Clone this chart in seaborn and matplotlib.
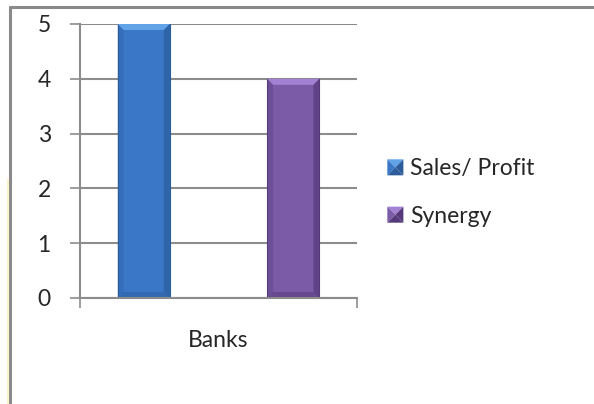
import matplotlib
matplotlib.use("Agg")
import matplotlib.pyplot as plt
from matplotlib.lines import Line2D
from matplotlib.patches import Patch, Polygon
from matplotlib.legend_handler import HandlerBase
import seaborn as sns
import pandas as pd

# Chart data
categories = ["Banks"]
series = ["Sales/ Profit", "Synergy"]
values = [5, 4]
y_ticks = [0, 1, 2, 3, 4, 5]

colors = {"Sales/ Profit": "#3a78c7", "Synergy": "#7b5ba7"}
light = {"Sales/ Profit": "#62a3e8", "Synergy": "#a281d2"}
dark = {"Sales/ Profit": "#2c5c9c", "Synergy": "#55397a"}

sns.set_theme(style="white")
plt.rcParams["font.family"] = ["Lato", "DejaVu Sans"]
FS = 16.5

df = pd.DataFrame({
    "category": [categories[0]] * len(series),
    "series": series,
    "value": values,
})

fig = plt.figure(figsize=(5.94, 4.04), dpi=100)
ax = fig.add_axes([80 / 594, 1 - 298 / 404, 277 / 594, 274 / 404])

sns.barplot(data=df, x="category", y="value", hue="series", palette=colors,
            width=1.08, gap=0.65, ax=ax, legend=False, saturation=1)

ax.set_xlim(-0.5, 0.5)
ax.set_ylim(0, 5)

# bevelled look on each bar: light top facet, darker sides and base
bev_x = 6 / 277 * (ax.get_xlim()[1] - ax.get_xlim()[0])
bev_y = 6 / 274 * (ax.get_ylim()[1] - ax.get_ylim()[0])
for patch, s in zip(list(ax.patches), series):
    x0 = patch.get_x()
    x1 = x0 + patch.get_width()
    y0 = patch.get_y()
    y1 = y0 + patch.get_height()
    patch.set_edgecolor(dark[s])
    patch.set_linewidth(0.8)
    facets = [
        ([(x0, y1), (x1, y1), (x1 - bev_x, y1 - bev_y), (x0 + bev_x, y1 - bev_y)], light[s], 1.0),
        ([(x0, y0), (x0 + bev_x, y0 + bev_y), (x0 + bev_x, y1 - bev_y), (x0, y1)], dark[s], 0.35),
        ([(x1, y0), (x1 - bev_x, y0 + bev_y), (x1 - bev_x, y1 - bev_y), (x1, y1)], dark[s], 0.7),
        ([(x0, y0), (x1, y0), (x1 - bev_x, y0 + bev_y), (x0 + bev_x, y0 + bev_y)], dark[s], 0.5),
    ]
    for pts, c, a in facets:
        ax.add_patch(Polygon(pts, closed=True, facecolor=c, edgecolor="none", alpha=a, zorder=patch.get_zorder() + 0.1))

ax.set_yticks(y_ticks)
ax.set_yticklabels([str(t) for t in y_ticks], fontsize=FS)
ax.yaxis.grid(True, color="#8c8c8c", linewidth=1.5)
ax.set_axisbelow(True)

# category label with boundary ticks
ax.set_xticks([0])
ax.set_xticklabels(categories, fontsize=FS)
ax.set_xticks([-0.5, 0.5], minor=True)
ax.tick_params(axis="x", which="major", length=0, pad=23)
ax.tick_params(axis="x", which="minor", length=7, width=1.2, color="#8c8c8c", bottom=True)
ax.tick_params(axis="y", length=7, width=1.2, color="#8c8c8c", left=True, pad=14)
ax.set_xlabel("")
ax.set_ylabel("")

for side in ["top", "right"]:
    ax.spines[side].set_visible(False)
for side in ["left", "bottom"]:
    ax.spines[side].set_color("#8c8c8c")
    ax.spines[side].set_linewidth(1.5)

# outer chart frame (top and left edges)
fig.add_artist(Line2D([10 / 594, 1], [1 - 7 / 404, 1 - 7 / 404], color="#8a8a8a", linewidth=2.2))
fig.add_artist(Line2D([10 / 594, 10 / 594], [0, 1 - 7 / 404], color="#8a8a8a", linewidth=2.2))
fig.add_artist(Line2D([7.5 / 594, 7.5 / 594], [0, 1 - 180 / 404], color="#fbf3c8", linewidth=1.5))


class PyramidHandler(HandlerBase):
    """Legend key drawn as a small bevelled square."""

    def create_artists(self, legend, orig_handle, xdescent, ydescent, width, height, fontsize, trans):
        s = orig_handle.get_label()
        side = min(width, height)
        x0, y0 = -xdescent, -ydescent + (height - side) / 2
        x1, y1 = x0 + side, y0 + side
        cx, cy = (x0 + x1) / 2, (y0 + y1) / 2
        tris = [
            ([(x0, y1), (x1, y1), (cx, cy)], light[s]),
            ([(x0, y0), (x0, y1), (cx, cy)], colors[s]),
            ([(x1, y0), (x1, y1), (cx, cy)], dark[s]),
            ([(x0, y0), (x1, y0), (cx, cy)], dark[s]),
        ]
        arts = []
        for pts, c in tris:
            p = Polygon(pts, closed=True, facecolor=c, edgecolor="none", transform=trans)
            arts.append(p)
        return arts


handles = [Patch(facecolor=colors[s], label=s) for s in series]
fig.legend(handles=handles, loc="upper left", bbox_to_anchor=(369 / 594, 1 - 140 / 404),
           frameon=False, fontsize=FS, handlelength=0.7, handleheight=0.7,
           handletextpad=0.3, labelspacing=1.15, borderpad=0.3,
           handler_map={Patch: PyramidHandler()})

fig.savefig("out.png", dpi=100)
